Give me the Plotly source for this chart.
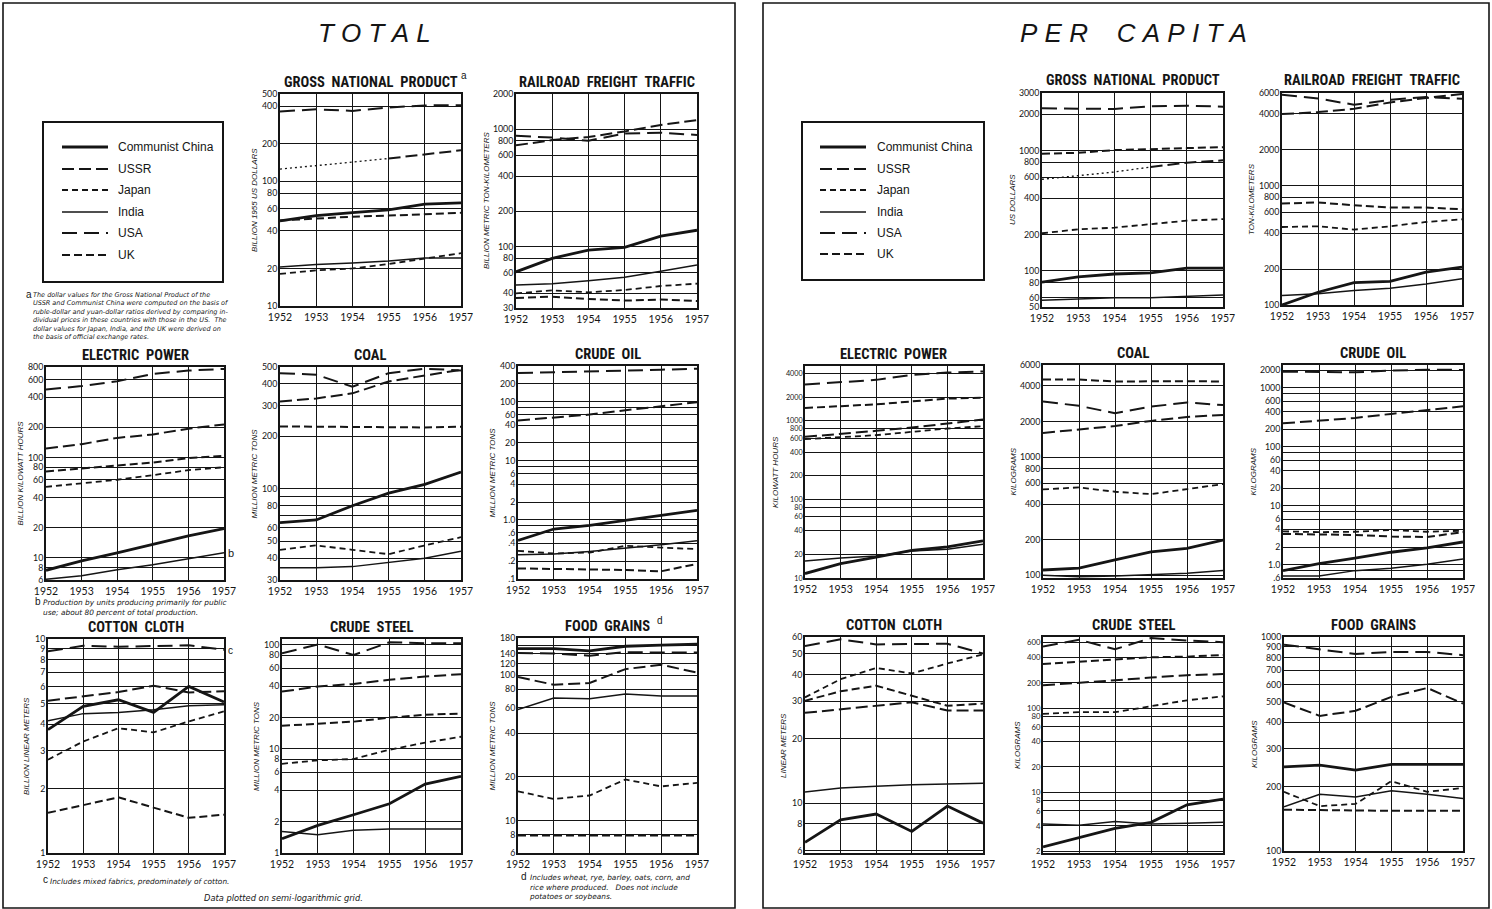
import math
import plotly.graph_objects as go

W, H = 1492, 909
INK = "#151515"
YEARS = [1952, 1953, 1954, 1955, 1956, 1957]
YEAR_LABELS = ["1952", "1953", "1954", "1955", "1956", "1957"]
COUNTRIES = ["Communist China", "USSR", "Japan", "India", "USA", "UK"]

# ------------------------------------------------------------------ TOTAL
TOT_GNP = {  # billion 1955 US dollars
    "Communist China": [48, 53, 56, 59, 65.5, 67],
    "USSR": [125, 134, 143, 152, 163, 177],
    "Japan": [18.1, 19.3, 20, 21.7, 24, 26.5],
    "India": [20.5, 21.5, 22.1, 22.9, 24.3, 24.3],
    "USA": [362, 377, 366, 390, 405, 407],
    "UK": [48.5, 50.3, 52, 53, 54.5, 55.8],
}
TOT_RAIL = {  # billion metric ton-km
    "Communist China": [61, 79.5, 93.5, 98.5, 123, 138],
    "USSR": [730, 810, 860, 960, 1090, 1200],
    "Japan": [40, 42.4, 40.8, 42.7, 46.2, 48.4],
    "India": [47, 48.4, 51.3, 54.8, 61.6, 69.8],
    "USA": [880, 850, 800, 920, 935, 895],
    "UK": [36.5, 37.5, 35.8, 34.7, 35.4, 34.4],
}
TOT_ELEC = {  # billion kWh
    "Communist China": [7.5, 9.3, 11.2, 13.5, 16.5, 19.5],
    "USSR": [123, 136, 157, 170, 194, 214],
    "Japan": [51, 55, 60, 66.7, 74.8, 80],
    "India": [6.1, 6.6, 7.6, 8.5, 9.8, 11.2],
    "USA": [477, 516, 577, 682, 737, 765],
    "UK": [72.6, 77.7, 84, 89, 98.5, 104],
}
TOT_COAL = {  # million metric tons
    "Communist China": [64, 66.3, 80, 94.4, 106, 125],
    "USSR": [317, 330, 353, 413, 447, 482],
    "Japan": [44.7, 47.4, 44.7, 42.2, 47.4, 52.8],
    "India": [35.3, 35.3, 35.8, 37.8, 40, 43.8],
    "USA": [461, 452, 385, 461, 489, 478],
    "UK": [228, 227, 227, 226, 225, 227],
}
TOT_OIL = {  # million metric tons
    "Communist China": [0.45, 0.70, 0.81, 0.99, 1.2, 1.45],
    "USSR": [47.9, 54.4, 60.3, 71.3, 83.7, 97.7],
    "Japan": [0.30, 0.27, 0.28, 0.365, 0.34, 0.32],
    "India": [0.257, 0.264, 0.293, 0.333, 0.379, 0.443],
    "USA": [304, 311, 317, 334, 346, 360],
    "UK": [0.151, 0.148, 0.144, 0.142, 0.135, 0.18],
}
TOT_COTTON = {  # billion linear meters
    "Communist China": [3.77, 4.85, 5.2, 4.54, 6.0, 5.08],
    "USSR": [5.15, 5.4, 5.65, 6.05, 5.63, 5.7],
    "Japan": [2.73, 3.32, 3.83, 3.66, 4.12, 4.59],
    "India": [4.15, 4.48, 4.54, 4.67, 4.88, 4.93],
    "USA": [8.76, 9.3, 9.2, 9.3, 9.34, 8.9],
    "UK": [1.54, 1.68, 1.82, 1.63, 1.46, 1.51],
}
TOT_STEEL = {  # million metric tons
    "Communist China": [1.37, 1.84, 2.33, 2.97, 4.6, 5.45],
    "USSR": [35.6, 39.8, 42.2, 46.2, 49.7, 52.3],
    "Japan": [7.2, 7.77, 8.0, 9.83, 11.5, 13.1],
    "India": [1.61, 1.5, 1.65, 1.7, 1.7, 1.7],
    "USA": [83, 101, 80, 106, 104, 104],
    "UK": [16.7, 17.4, 18.3, 20, 21.3, 21.9],
}
TOT_GRAIN = {  # million metric tons
    "Communist China": [152, 152, 147, 158, 161, 163],
    "USSR": [97, 86, 88.4, 110, 118, 104],
    "Japan": [15.9, 14.1, 14.9, 19.2, 17.2, 18.2],
    "India": [58, 69.6, 68.8, 74.2, 71.9, 71.9],
    "USA": [142, 141, 136, 144, 143, 143],
    "UK": [7.9, 7.9, 7.9, 7.9, 7.9, 7.9],
}

# -------------------------------------------------------------- PER CAPITA
PC_GNP = {  # US dollars
    "Communist China": [80.5, 89, 94, 96, 105, 105],
    "USSR": [576, 622, 662, 728, 791, 827],
    "Japan": [205, 221, 228, 243, 261, 269],
    "India": [56.8, 58.5, 59.6, 59.6, 60.9, 62.9],
    "USA": [2238, 2238, 2209, 2324, 2356, 2309],
    "UK": [939, 956, 1006, 1032, 1045, 1065],
}
PC_RAIL = {  # ton-km
    "Communist China": [100, 128, 154, 158, 189, 208],
    "USSR": [3990, 4150, 4420, 5000, 5450, 5880],
    "Japan": [451, 457, 429, 457, 497, 524],
    "India": [120, 124, 132, 138, 150, 166],
    "USA": [5800, 5400, 4780, 5260, 5550, 5370],
    "UK": [710, 724, 687, 657, 657, 636],
}
PC_ELEC = {  # kWh
    "Communist China": [11.4, 15.2, 18.5, 22.5, 24.9, 29.7],
    "USSR": [627, 678, 747, 823, 925, 1040],
    "Japan": [586, 627, 658, 725, 800, 856],
    "India": [16.5, 18, 19.1, 22.1, 23.2, 26.9],
    "USA": [2910, 3110, 3330, 3860, 4130, 4250],
    "UK": [1460, 1550, 1625, 1770, 1920, 1980],
}
PC_COAL = {  # kg
    "Communist China": [111, 115, 135, 158, 169, 199],
    "USSR": [1600, 1710, 1830, 2020, 2180, 2270],
    "Japan": [533, 554, 509, 486, 536, 591],
    "India": [100, 97.5, 99, 102, 104, 110],
    "USA": [2950, 2710, 2350, 2670, 2890, 2750],
    "UK": [4520, 4520, 4350, 4380, 4380, 4350],
}
PC_OIL = {  # kg
    "Communist China": [0.80, 1.05, 1.3, 1.64, 1.94, 2.45],
    "USSR": [252, 279, 310, 363, 424, 489],
    "Japan": [3.7, 3.6, 3.65, 3.9, 3.65, 3.8],
    "India": [0.65, 0.65, 0.8, 0.88, 1.03, 1.26],
    "USA": [1890, 1890, 1840, 1970, 2040, 2020],
    "UK": [3.35, 3.28, 3.22, 3.03, 2.97, 3.6],
}
PC_COTTON = {  # linear meters
    "Communist China": [6.56, 8.37, 8.9, 7.38, 9.7, 8.07],
    "USSR": [26.5, 27.5, 28.5, 29.7, 27.2, 27.2],
    "Japan": [31.3, 38.1, 43.0, 40.5, 45.1, 49.8],
    "India": [11.3, 11.8, 12.0, 12.2, 12.3, 12.4],
    "USA": [54.5, 58.5, 55.4, 55.8, 55.8, 50.2],
    "UK": [30.2, 33.4, 35.5, 31.9, 28.6, 29.3],
}
PC_STEEL = {  # kg
    "Communist China": [2.25, 2.88, 3.72, 4.4, 7.1, 8.3],
    "USSR": [187, 199, 214, 231, 246, 254],
    "Japan": [85.5, 89.5, 89.5, 104.7, 124, 138],
    "India": [4.2, 4.05, 4.5, 4.2, 4.3, 4.4],
    "USA": [539, 649, 501, 680, 636, 608],
    "UK": [334, 356, 380, 402, 409, 428],
}
PC_GRAIN = {  # kg
    "Communist China": [247, 252, 239, 254, 254, 254],
    "USSR": [494, 428, 452, 525, 578, 489],
    "Japan": [189, 162, 166, 212, 189, 197],
    "India": [161, 184, 179, 191, 184, 176],
    "USA": [921, 873, 832, 852, 852, 822],
    "UK": [156, 155, 154, 154, 154, 154],
}

# ---------------------------------------------------- grid / tick labels
# an empty label means a grid line without a number
G_TOT_GNP = [10, 20, 40, 60, 80, 100, 200, 400, 500]
L_TOT_GNP = ["10", "20", "40", "60", "80", "100", "200", "400", "500"]
G_TOT_RAIL = [30, 40, 60, 80, 100, 200, 400, 600, 800, 1000, 2000]
L_TOT_RAIL = ["30", "40", "60", "80", "100", "200", "400", "600", "800", "1000", "2000"]
G_TOT_ELEC = [6, 8, 10, 20, 40, 60, 80, 100, 200, 400, 600, 800]
L_TOT_ELEC = ["6", "8", "10", "20", "40", "60", "80", "100", "200", "400", "600", "800"]
G_TOT_COAL = [30, 40, 50, 60, 70, 80, 90, 100, 200, 300, 400, 500]
L_TOT_COAL = ["30", "40", "50", "60", "", "80", "", "100", "200", "300", "400", "500"]
G_TOT_OIL = [0.1, 0.2, 0.4, 0.6, 0.8, 1, 2, 4, 6, 8, 10, 20, 40, 60, 80, 100, 200, 400]
L_TOT_OIL = [".1", ".2", ".4", ".6", "", "1.0", "2", "4", "6", "", "10", "20", "40", "60", "", "100", "200", "400"]
G_TOT_COTTON = [1, 2, 3, 4, 5, 6, 7, 8, 9, 10]
L_TOT_COTTON = ["1", "2", "3", "4", "5", "6", "7", "8", "9", "10"]
G_TOT_STEEL = [1, 2, 4, 6, 8, 10, 20, 40, 60, 80, 100]
L_TOT_STEEL = ["1", "2", "4", "6", "8", "10", "20", "40", "60", "80", "100"]
G_TOT_GRAIN = [6, 8, 10, 20, 40, 60, 80, 100, 120, 140, 160, 180]
L_TOT_GRAIN = ["6", "8", "10", "20", "40", "60", "80", "100", "120", "140", "", "180"]

G_PC_GNP = [50, 60, 80, 100, 200, 400, 600, 800, 1000, 2000, 3000]
L_PC_GNP = ["50", "60", "80", "100", "200", "400", "600", "800", "1000", "2000", "3000"]
G_PC_RAIL = [100, 200, 400, 600, 800, 1000, 2000, 4000, 6000]
L_PC_RAIL = ["100", "200", "400", "600", "800", "1000", "2000", "4000", "6000"]
G_PC_ELEC = [10, 20, 40, 60, 80, 100, 200, 400, 600, 800, 1000, 2000, 4000]
L_PC_ELEC = ["10", "20", "40", "60", "80", "100", "200", "400", "600", "800", "1000", "2000", "4000"]
G_PC_COAL = [100, 200, 400, 600, 800, 1000, 2000, 4000, 6000]
L_PC_COAL = ["100", "200", "400", "600", "800", "1000", "2000", "4000", "6000"]
G_PC_OIL = [0.6, 0.8, 1, 2, 4, 6, 8, 10, 20, 40, 60, 80, 100, 200, 400, 600, 800, 1000, 2000]
L_PC_OIL = [".6", "", "1.0", "2", "4", "6", "", "10", "20", "40", "60", "", "100", "200", "400", "600", "", "1000", "2000"]
G_PC_COTTON = [6, 8, 10, 20, 30, 40, 50, 60]
L_PC_COTTON = ["6", "8", "10", "20", "30", "40", "50", "60"]
G_PC_STEEL = [2, 4, 6, 8, 10, 20, 40, 60, 80, 100, 200, 400, 600]
L_PC_STEEL = ["2", "4", "6", "8", "10", "20", "40", "60", "80", "100", "200", "400", "600"]
G_PC_GRAIN = [100, 200, 300, 400, 500, 600, 700, 800, 900, 1000]
L_PC_GRAIN = ["100", "200", "300", "400", "500", "600", "700", "800", "900", "1000"]

# ------------------------------------------------------------------ styles
STYLE = {
    "Communist China": dict(width=2.8, dash="solid"),
    "USSR": dict(width=2.0, dash="12px,5px"),
    "Japan": dict(width=1.8, dash="6px,4px"),
    "India": dict(width=1.5, dash="solid"),
    "USA": dict(width=2.0, dash="15px,7px"),
    "UK": dict(width=2.0, dash="8px,4px"),
}
COND = "Noto Sans Condensed, Roboto Condensed, Liberation Sans Narrow, DejaVu Sans Condensed, Lato, sans-serif"
TICK = "Lato, Liberation Sans, Arial, sans-serif"
SANS = "Liberation Sans, Arial, Helvetica, sans-serif"
NOTE = "DejaVu Sans, Liberation Sans, sans-serif"
NB = "\u00a0"

# (data, title, superscript, sup x-offset, y-title, (left, right, top, bottom) px,
#  (ymin, ymax), grid, labels, ussr dotted)
PANELS = [
    (TOT_GNP, "GROSS NATIONAL PRODUCT", "a", 93, "BILLION 1955 US DOLLARS", (280, 461, 94, 306), (10, 500), G_TOT_GNP, L_TOT_GNP, True),
    (TOT_RAIL, "RAILROAD FREIGHT TRAFFIC", "", 0, "BILLION METRIC TON-KILOMETERS", (516, 697, 94, 308), (30, 2000), G_TOT_RAIL, L_TOT_RAIL, False),
    (TOT_ELEC, "ELECTRIC POWER", "", 0, "BILLION KILOWATT HOURS", (46, 224, 367, 580), (6, 800), G_TOT_ELEC, L_TOT_ELEC, False),
    (TOT_COAL, "COAL", "", 0, "MILLION METRIC TONS", (280, 461, 367, 580), (30, 500), G_TOT_COAL, L_TOT_COAL, False),
    (TOT_OIL, "CRUDE OIL", "", 0, "MILLION METRIC TONS", (518, 697, 366, 579), (0.1, 400), G_TOT_OIL, L_TOT_OIL, False),
    (TOT_COTTON, "COTTON CLOTH", "", 0, "BILLION LINEAR METERS", (48, 224, 639, 853), (1, 10), G_TOT_COTTON, L_TOT_COTTON, False),
    (TOT_STEEL, "CRUDE STEEL", "", 0, "MILLION METRIC TONS", (282, 461, 639, 853), (1, 114), G_TOT_STEEL, L_TOT_STEEL, False),
    (TOT_GRAIN, "FOOD GRAINS", "d", 52, "MILLION METRIC TONS", (518, 697, 638, 853), (6, 180), G_TOT_GRAIN, L_TOT_GRAIN, False),
    (PC_GNP, "GROSS NATIONAL PRODUCT", "", 0, "US DOLLARS", (1042, 1223, 93, 307), (50, 3000), G_PC_GNP, L_PC_GNP, True),
    (PC_RAIL, "RAILROAD FREIGHT TRAFFIC", "", 0, "TON-KILOMETERS", (1282, 1462, 93, 305), (100, 6000), G_PC_RAIL, L_PC_RAIL, False),
    (PC_ELEC, "ELECTRIC POWER", "", 0, "KILOWATT HOURS", (805, 983, 366, 578), (10, 5000), G_PC_ELEC, L_PC_ELEC, False),
    (PC_COAL, "COAL", "", 0, "KILOGRAMS", (1043, 1223, 365, 578), (95, 6000), G_PC_COAL, L_PC_COAL, False),
    (PC_OIL, "CRUDE OIL", "", 0, "KILOGRAMS", (1283, 1463, 365, 578), (0.6, 2450), G_PC_OIL, L_PC_OIL, False),
    (PC_COTTON, "COTTON CLOTH", "", 0, "LINEAR METERS", (805, 983, 637, 853), (5.85, 60), G_PC_COTTON, L_PC_COTTON, False),
    (PC_STEEL, "CRUDE STEEL", "", 0, "KILOGRAMS", (1043, 1223, 637, 853), (1.9, 700), G_PC_STEEL, L_PC_STEEL, False),
    (PC_GRAIN, "FOOD GRAINS", "", 0, "KILOGRAMS", (1284, 1463, 637, 851), (100, 1000), G_PC_GRAIN, L_PC_GRAIN, False),
]


def fx(x):
    return x / W


def fy(y):
    return 1 - y / H


fig = go.Figure()
layout = {}
annotations = []
shapes = []

for i, (data, title, sup, sdx, ytitle, box, yr, grid, labels, dotted) in enumerate(PANELS, start=1):
    l, r, t, b = box
    xa, ya = ("xaxis", "yaxis") if i == 1 else (f"xaxis{i}", f"yaxis{i}")
    xref, yref = ("x", "y") if i == 1 else (f"x{i}", f"y{i}")
    major_v = [v for v, s in zip(grid, labels) if s]
    major_t = [s for s in labels if s]
    minor_v = [v for v, s in zip(grid, labels) if not s]
    # tick font shrinks where numbered grid lines sit close together
    ppd = (b - t) / (math.log10(yr[1]) - math.log10(yr[0]))
    gaps = [ppd * (math.log10(major_v[k + 1]) - math.log10(major_v[k])) for k in range(len(major_v) - 1)]
    tsize = max(6.8, min(8.8, 0.95 * min(gaps)))
    layout[xa] = dict(
        domain=[fx(l), fx(r)], anchor=yref, range=[1952, 1957],
        tickmode="array", tickvals=YEARS, ticktext=YEAR_LABELS,
        showgrid=True, gridcolor=INK, gridwidth=1.3,
        showline=True, linecolor=INK, linewidth=1.8, mirror=True,
        ticks="", zeroline=False, fixedrange=True, automargin=False,
        tickfont=dict(family=TICK, size=10.5, color=INK),
    )
    ydict = dict(
        domain=[fy(b), fy(t)], anchor=xref, type="log",
        range=[math.log10(yr[0]), math.log10(yr[1])],
        tickmode="array", tickvals=major_v, ticktext=major_t,
        showgrid=True, gridcolor=INK, gridwidth=1.3,
        showline=True, linecolor=INK, linewidth=1.8, mirror=True,
        ticks="", zeroline=False, fixedrange=True, automargin=False,
        ticklabelstandoff=-1,
        tickfont=dict(family=TICK, size=tsize, color=INK),
    )
    if minor_v:
        ydict["minor"] = dict(tickmode="array", tickvals=minor_v, showgrid=True,
                              gridcolor=INK, gridwidth=1.3, ticks="")
    layout[ya] = ydict
    for c in COUNTRIES:
        vals = data[c]
        st = STYLE[c]
        common = dict(mode="lines", xaxis=xref, yaxis=yref, showlegend=False,
                      hoverinfo="skip", name=c)
        if dotted and c == "USSR":
            fig.add_trace(go.Scatter(x=YEARS[:4], y=vals[:4],
                                     line=dict(color=INK, width=1.3, dash="2px,3px"), **common))
            fig.add_trace(go.Scatter(x=YEARS[3:], y=vals[3:],
                                     line=dict(color=INK, width=st["width"], dash=st["dash"]), **common))
        else:
            fig.add_trace(go.Scatter(x=YEARS, y=vals,
                                     line=dict(color=INK, width=st["width"], dash=st["dash"]), **common))
    # panel title
    ttxt = title.replace(" ", NB + NB)
    cx = (l + r) / 2
    annotations.append(dict(
        x=fx(cx), y=fy(t - 12), xref="paper", yref="paper",
        text=f"<b>{ttxt}</b>", showarrow=False, xanchor="center", yanchor="middle",
        font=dict(family=COND, size=14.5, color=INK),
    ))
    if sup:
        annotations.append(dict(
            x=fx(cx + sdx), y=fy(t - 18), xref="paper", yref="paper",
            text=sup, showarrow=False, xanchor="center", yanchor="middle",
            font=dict(family=SANS, size=10, color=INK),
        ))
    # y-axis title
    maxlen = max(len(s) for s in labels)
    annotations.append(dict(
        x=fx(l - (14 + 4 * maxlen)), y=fy((t + b) / 2), xref="paper", yref="paper",
        text=f"<i>{ytitle}</i>", showarrow=False, textangle=-90,
        xanchor="center", yanchor="middle",
        font=dict(family=SANS, size=8, color=INK),
    ))

# ----------------------------------------------------------- big headings
annotations.append(dict(x=fx(374), y=fy(33), xref="paper", yref="paper", showarrow=False,
                        xanchor="center", yanchor="middle",
                        text="<i>" + NB.join("TOTAL") + "</i>",
                        font=dict(family=SANS, size=26, color=INK)))
annotations.append(dict(x=fx(1133), y=fy(33), xref="paper", yref="paper", showarrow=False,
                        xanchor="center", yanchor="middle",
                        text="<i>" + NB.join("PER") + NB * 4 + NB.join("CAPITA") + "</i>",
                        font=dict(family=SANS, size=26, color=INK)))

# ------------------------------------------------------------------ legends
LEGEND_BOXES = [((43, 122, 223, 282), 62, 108, 116, [147, 169, 190, 212, 233, 255]),
                ((802, 122, 984, 280), 820, 866, 875, [147, 169, 190, 212, 233, 254])]
for (bx0, by0, bx1, by1), lx0, lx1, tx, rows in LEGEND_BOXES:
    shapes.append(dict(type="rect", xref="paper", yref="paper",
                       x0=fx(bx0), x1=fx(bx1), y0=fy(by0), y1=fy(by1),
                       line=dict(color=INK, width=2)))
    for c, ry in zip(COUNTRIES, rows):
        st = STYLE[c]
        shapes.append(dict(type="line", xref="paper", yref="paper",
                           x0=fx(lx0), x1=fx(lx1), y0=fy(ry), y1=fy(ry),
                           line=dict(color=INK, width=st["width"], dash=st["dash"])))
        annotations.append(dict(x=fx(tx), y=fy(ry), xref="paper", yref="paper", showarrow=False,
                                text=c, xanchor="left", yanchor="middle",
                                font=dict(family=SANS, size=12, color=INK)))

# ------------------------------------------------------------------ frames
shapes.append(dict(type="rect", xref="paper", yref="paper", x0=fx(3), x1=fx(735),
                   y0=fy(3), y1=fy(908), line=dict(color=INK, width=1.6)))
shapes.append(dict(type="rect", xref="paper", yref="paper", x0=fx(763), x1=fx(1489),
                   y0=fy(3), y1=fy(908), line=dict(color=INK, width=1.6)))

# --------------------------------------------------------------- footnotes
FOOT_A = ("The dollar values for the Gross National Product of the<br>"
          "USSR and Communist China were computed on the basis of<br>"
          "ruble-dollar and yuan-dollar ratios derived by comparing in-<br>"
          "dividual prices in these countries with those in the US.  The<br>"
          "dollar values for Japan, India, and the UK were derived on<br>"
          "the basis of official exchange rates.")
FOOT_B = ("Production by units producing primarily for public<br>"
          "use; about 80 percent of total production.")
FOOT_C = "Includes mixed fabrics, predominately of cotton."
FOOT_D = ("Includes wheat, rye, barley, oats, corn, and<br>"
          "rice where produced.   Does not include<br>"
          "potatoes or soybeans.")


def note(x, y, text, size, xanchor="left", yanchor="top", italic=True, family=NOTE):
    annotations.append(dict(x=fx(x), y=fy(y), xref="paper", yref="paper", showarrow=False,
                            text=(f"<i>{text}</i>" if italic else text), align="left",
                            xanchor=xanchor, yanchor=yanchor,
                            font=dict(family=family, size=size, color=INK)))


note(24, 287, "a", 10, italic=False, family=SANS)
note(31, 289, FOOT_A, 6.5)
note(33, 594, "b", 10, italic=False, family=SANS)
note(41, 596, FOOT_B, 7.4)
note(41, 872, "c", 10, italic=False, family=SANS)
note(48, 875, FOOT_C, 7.4)
note(519, 869, "d", 10, italic=False, family=SANS)
note(527, 871, FOOT_D, 7.4)
note(283, 898, "Data plotted on semi-logarithmic grid.", 8.3, xanchor="center", yanchor="middle")
note(226, 553, "b", 11, yanchor="middle", italic=False, family=SANS)
note(226, 650, "c", 10, yanchor="middle", italic=False, family=SANS)

layout.update(dict(
    width=W, height=H, autosize=False,
    margin=dict(l=0, r=0, t=0, b=0, pad=0, autoexpand=False),
    paper_bgcolor="white", plot_bgcolor="white",
    showlegend=False,
    annotations=annotations, shapes=shapes,
))
fig.update_layout(**layout)
fig.write_html("out.html", config={"displayModeBar": False, "responsive": False},
               post_script="document.body.style.margin='0';document.body.style.overflow='hidden';")
